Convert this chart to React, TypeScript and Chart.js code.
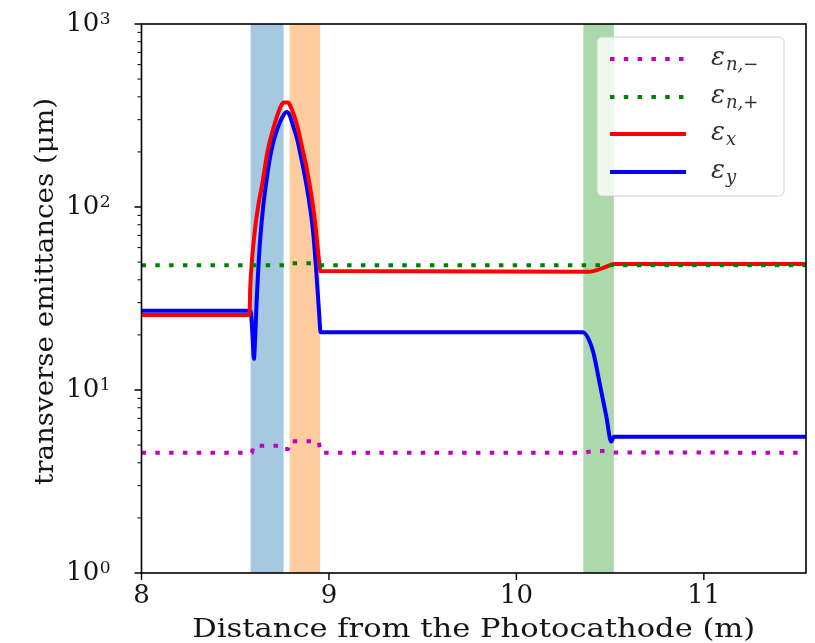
import React, { useEffect, useRef } from 'react';
import { Chart, registerables } from 'chart.js';
Chart.register(...registerables);

// ---- data ----
const xMin = 8;
const xMax = 11.545;
const xTickValues = [8, 9, 10, 11];
const xTickLabels = ['8', '9', '10', '11'];
const yMajorValues = [1, 10, 100, 1000];
const yTickBases = ['10', '10', '10', '10'];
const yTickExps = ['0', '1', '2', '3'];
const xTitle = 'Distance from the Photocathode (m)';
const yTitle = 'transverse emittances (μm)';

const epsNMinusX = [8.0, 8.59, 8.596, 8.752, 8.76, 8.782, 8.79, 8.946, 8.954, 10.36, 10.40, 10.46, 10.52, 11.545];
const epsNMinusY = [4.54, 4.54, 4.96, 4.96, 4.76, 4.76, 5.24, 5.24, 4.54, 4.54, 4.62, 4.64, 4.56, 4.54];

const epsNPlusX = [8.0, 8.785, 8.80, 8.935, 8.95, 11.545];
const epsNPlusY = [48.0, 48.0, 49.3, 49.3, 48.0, 48.0];

const epsXX = [8.0, 8.576, 8.58, 8.59, 8.605, 8.625, 8.645, 8.67, 8.70, 8.725, 8.745, 8.76, 8.782, 8.80, 8.83, 8.86, 8.885, 8.907, 8.925, 8.94, 8.948, 8.955, 10.39, 10.43, 10.47, 10.524, 11.545];
const epsXY = [25.7, 25.7, 36, 52, 75, 105, 135, 195, 262, 318, 358, 372, 372, 345, 280, 205, 155, 115, 84, 60, 50, 44.7, 44.3, 45.2, 46.8, 48.8, 48.8];

const epsYX = [8.0, 8.582, 8.592, 8.60, 8.607, 8.614, 8.63, 8.649, 8.667, 8.685, 8.705, 8.729, 8.752, 8.774, 8.79, 8.81, 8.827, 8.85, 8.881, 8.90, 8.916, 8.93, 8.942, 8.95, 8.955, 10.353, 10.407, 10.444, 10.48, 10.506, 10.52, 11.545];
const epsYY = [27.1, 27.1, 20, 14.8, 20, 30, 60, 100, 140, 185, 230, 275, 310, 330, 318, 275, 242, 190, 130, 98, 72, 48, 32, 24, 20.7, 20.7, 16.5, 10.9, 7.15, 5.22, 5.56, 5.56];

const bandStarts = [8.582, 8.79, 10.357];
const bandEnds = [8.758, 8.953, 10.52];
const bandColors = ['rgba(31,119,180,0.4)', 'rgba(255,127,14,0.4)', 'rgba(44,160,44,0.4)'];

const seriesSubs = ['n,−', 'n,+', 'x', 'y'];
const seriesColors = ['#bf00bf', '#008000', '#ff0000', '#0000ff'];
const seriesDotted = [true, true, false, false];

const SERIF = '"DejaVu Serif", serif';
const TEXT = '#151515';

function pts(xs: number[], ys: number[]) {
  return xs.map((x, i) => ({ x, y: ys[i] }));
}

function fitText(ctx: CanvasRenderingContext2D, text: string, cx: number, cy: number, target: number, rot: number) {
  const w = ctx.measureText(text).width;
  ctx.save();
  ctx.translate(cx, cy);
  ctx.rotate(rot);
  ctx.scale(target / w, 1);
  ctx.textAlign = 'center';
  ctx.textBaseline = 'alphabetic';
  ctx.fillText(text, 0, 0);
  ctx.restore();
}

const decor = {
  id: 'decor',
  beforeDatasetsDraw(chart: any) {
    const { ctx, chartArea: a, scales } = chart;
    const x = scales.x;
    ctx.save();
    for (let i = 0; i < bandStarts.length; i++) {
      const x0 = x.getPixelForValue(bandStarts[i]);
      const x1 = x.getPixelForValue(bandEnds[i]);
      ctx.fillStyle = bandColors[i];
      ctx.fillRect(x0, a.top, x1 - x0, a.bottom - a.top);
    }
    ctx.restore();
  },
  afterDraw(chart: any) {
    const { ctx, chartArea: a, scales } = chart;
    const x = scales.x;
    const y = scales.y;
    ctx.save();
    // frame
    ctx.strokeStyle = '#000';
    ctx.lineWidth = 1.6;
    ctx.strokeRect(a.left, a.top, a.right - a.left, a.bottom - a.top);
    // x ticks + labels
    ctx.lineWidth = 1.4;
    ctx.beginPath();
    for (const v of xTickValues) {
      const px = x.getPixelForValue(v);
      ctx.moveTo(px, a.bottom);
      ctx.lineTo(px, a.bottom + 7);
    }
    ctx.stroke();
    ctx.fillStyle = TEXT;
    ctx.font = '26px ' + SERIF;
    ctx.textAlign = 'center';
    ctx.textBaseline = 'alphabetic';
    xTickValues.forEach((v, i) => {
      ctx.fillText(xTickLabels[i], x.getPixelForValue(v), a.bottom + 30);
    });
    // y ticks
    ctx.beginPath();
    for (const v of yMajorValues) {
      const py = y.getPixelForValue(v);
      ctx.moveTo(a.left, py);
      ctx.lineTo(a.left - 7, py);
    }
    ctx.stroke();
    ctx.lineWidth = 1;
    ctx.beginPath();
    for (let d = 0; d < 3; d++) {
      for (let m = 2; m <= 9; m++) {
        const py = y.getPixelForValue(m * Math.pow(10, d));
        ctx.moveTo(a.left, py);
        ctx.lineTo(a.left - 4, py);
      }
    }
    ctx.stroke();
    // y tick labels (10 with superscript)
    ctx.textAlign = 'right';
    yMajorValues.forEach((v, i) => {
      const py = y.getPixelForValue(v);
      const right = a.left - 31;
      ctx.font = '17px ' + SERIF;
      const ew = ctx.measureText(yTickExps[i]).width;
      ctx.fillText(yTickExps[i], right, py);
      ctx.font = '26px ' + SERIF;
      ctx.fillText(yTickBases[i], right - ew - 0.5, py + 7);
    });
    // axis titles
    ctx.font = '26px ' + SERIF;
    fitText(ctx, xTitle, (a.left + a.right) / 2, a.bottom + 63.5, 563, 0);
    fitText(ctx, yTitle, 53, (a.top + a.bottom) / 2 - 7, 387, -Math.PI / 2);

    // legend
    const bx = 597, by = 37, bw = 187, bh = 159, r = 5;
    ctx.beginPath();
    ctx.moveTo(bx + r, by);
    ctx.arcTo(bx + bw, by, bx + bw, by + bh, r);
    ctx.arcTo(bx + bw, by + bh, bx, by + bh, r);
    ctx.arcTo(bx, by + bh, bx, by, r);
    ctx.arcTo(bx, by, bx + bw, by, r);
    ctx.closePath();
    ctx.fillStyle = 'rgba(255,255,255,0.8)';
    ctx.fill();
    ctx.strokeStyle = '#d0d0d0';
    ctx.lineWidth = 1;
    ctx.stroke();
    const rows = [59, 97, 134, 172];
    for (let i = 0; i < 4; i++) {
      const ry = rows[i];
      ctx.strokeStyle = seriesColors[i];
      ctx.lineWidth = 4;
      ctx.lineCap = 'butt';
      ctx.setLineDash(seriesDotted[i] ? [4.5, 9.3] : []);
      ctx.beginPath();
      ctx.moveTo(610, ry);
      ctx.lineTo(686, ry);
      ctx.stroke();
      ctx.setLineDash([]);
      ctx.fillStyle = '#333';
      ctx.textBaseline = 'alphabetic';
      ctx.textAlign = 'left';
      ctx.font = 'italic 26px ' + SERIF;
      ctx.fillText('ε', 711, ry + 6);
      const w = ctx.measureText('ε').width;
      ctx.font = 'italic 18px ' + SERIF;
      ctx.fillText(seriesSubs[i], 711 + w + 1, ry + 11);
    }
    ctx.restore();
  },
};

export default function App() {
  const ref = useRef<HTMLCanvasElement | null>(null);
  useEffect(() => {
    if (!ref.current) return;
    const data = [
      pts(epsNMinusX, epsNMinusY),
      pts(epsNPlusX, epsNPlusY),
      pts(epsXX, epsXY),
      pts(epsYX, epsYY),
    ];
    const chart = new Chart(ref.current, {
      type: 'line',
      data: {
        datasets: data.map((d, i) => ({
          label: 'ε_' + seriesSubs[i],
          data: d,
          borderColor: seriesColors[i],
          backgroundColor: seriesColors[i],
          borderWidth: 4,
          borderDash: seriesDotted[i] ? [4.5, 9.3] : [],
          borderCapStyle: 'butt',
          borderJoinStyle: 'round',
          pointRadius: 0,
          fill: false,
          tension: 0,
          cubicInterpolationMode: seriesDotted[i] ? 'default' : 'monotone',
        })),
      },
      options: {
        responsive: false,
        animation: false,
        devicePixelRatio: 1,
        layout: { padding: { left: 0, right: 9, top: 24, bottom: 0 } },
        plugins: { legend: { display: false }, tooltip: { enabled: false } },
        scales: {
          x: {
            type: 'linear',
            min: xMin,
            max: xMax,
            grid: { display: false, drawTicks: false, tickLength: 0 },
            border: { display: false },
            ticks: { display: false, stepSize: 1 },
            afterFit: (s: any) => { s.height = 70; },
          },
          y: {
            type: 'logarithmic',
            min: 1,
            max: 1000,
            grid: { display: false, drawTicks: false, tickLength: 0 },
            border: { display: false },
            ticks: { display: false },
            afterFit: (s: any) => { s.width = 141.5; },
          },
        },
      },
      plugins: [decor],
    } as any);
    return () => chart.destroy();
  }, []);
  return (
    <canvas
      ref={ref}
      width={815}
      height={643}
      style={{ position: 'absolute', left: 0, top: 0, display: 'block' }}
    />
  );
}
